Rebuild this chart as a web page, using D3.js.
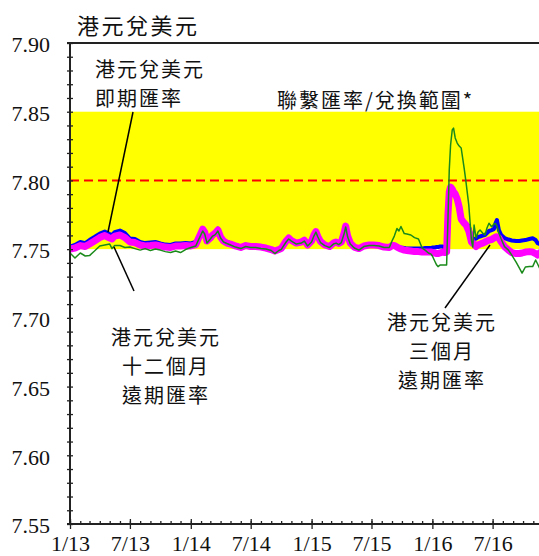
<!DOCTYPE html>
<html><head><meta charset="utf-8">
<script src="https://cdn.jsdelivr.net/npm/d3@7"></script>
<style>html,body{margin:0;padding:0;background:#fff;overflow:hidden}</style>
</head><body><svg id="c" width="539" height="556"></svg>
<script>
const dates = ["2013-01-01","2013-01-16","2013-02-01","2013-02-16","2013-03-01","2013-03-16","2013-04-01","2013-04-16","2013-05-01","2013-05-08","2013-05-16","2013-06-01","2013-06-16","2013-07-01","2013-07-16","2013-08-01","2013-08-16","2013-09-01","2013-09-16","2013-10-01","2013-10-16","2013-11-01","2013-11-16","2013-12-01","2013-12-16",
"2014-01-01","2014-01-16","2014-01-24","2014-02-06","2014-02-12","2014-02-19","2014-03-01","2014-03-08","2014-03-16","2014-03-24","2014-04-01","2014-04-10","2014-04-20","2014-05-01","2014-05-16","2014-06-01","2014-06-16","2014-07-01","2014-07-16","2014-08-01","2014-08-16","2014-09-01","2014-09-12","2014-09-24","2014-10-01","2014-10-16","2014-10-24","2014-11-01","2014-11-16","2014-12-01","2014-12-10","2014-12-20",
"2015-01-01","2015-01-08","2015-01-14","2015-01-20","2015-01-28","2015-02-10","2015-02-24","2015-03-08","2015-03-16","2015-03-24","2015-04-01","2015-04-10","2015-04-14","2015-04-20","2015-04-28","2015-05-10","2015-05-24","2015-06-08","2015-06-24","2015-07-08","2015-07-24","2015-08-08","2015-08-24","2015-09-01","2015-09-08","2015-09-16","2015-09-22","2015-09-28","2015-10-08","2015-10-16","2015-10-28","2015-11-08","2015-11-20","2015-12-01","2015-12-10","2015-12-20","2015-12-28",
"2016-01-01","2016-01-08","2016-01-14","2016-01-18","2016-01-24","2016-02-01","2016-02-08","2016-02-13","2016-02-17","2016-02-21","2016-02-25","2016-03-01","2016-03-05","2016-03-10","2016-03-16","2016-03-22","2016-03-28","2016-04-06","2016-04-12","2016-04-20","2016-04-28","2016-05-02","2016-05-06","2016-05-12","2016-05-18","2016-05-24","2016-06-01","2016-06-08","2016-06-14","2016-06-20","2016-06-28","2016-07-05","2016-07-10","2016-07-14","2016-07-20","2016-07-27","2016-08-06","2016-08-18","2016-08-28","2016-09-10","2016-09-20","2016-09-28","2016-10-08","2016-10-20","2016-10-30","2016-11-08","2016-11-14","2016-11-20"];

const spot = [7.7519,7.7530,7.7552,7.7544,7.7566,7.7588,7.7613,7.7628,7.7610,7.7603,7.7624,7.7635,7.7617,7.7577,7.7574,7.7552,7.7544,7.7548,7.7552,7.7541,7.7533,7.7530,7.7541,7.7541,7.7544,
7.7541,7.7552,7.7588,7.7646,7.7632,7.7566,7.7588,7.7610,7.7624,7.7650,7.7595,7.7566,7.7552,7.7544,7.7530,7.7519,7.7533,7.7526,7.7523,7.7519,7.7512,7.7501,7.7486,7.7501,7.7504,7.7559,7.7581,7.7566,7.7544,7.7552,7.7566,7.7530,
7.7559,7.7603,7.7632,7.7595,7.7555,7.7533,7.7519,7.7544,7.7552,7.7541,7.7555,7.7624,7.7668,7.7595,7.7544,7.7508,7.7501,7.7523,7.7530,7.7530,7.7526,7.7515,7.7512,7.7530,7.7530,7.7523,7.7515,7.7512,7.7508,7.7504,7.7504,7.7504,7.7504,7.7504,7.7508,7.7508,7.7508,
7.7512,7.7512,7.7515,7.7515,7.7519,7.7519,7.7508,7.7508,7.7748,7.7916,7.7937,7.7923,7.7916,7.7901,7.7872,7.7821,7.7734,7.7697,7.7683,7.7668,7.7595,7.7566,7.7574,7.7577,7.7588,7.7592,7.7599,7.7603,7.7617,7.7632,7.7639,7.7646,7.7690,7.7712,7.7639,7.7603,7.7581,7.7570,7.7563,7.7559,7.7559,7.7563,7.7566,7.7574,7.7579,7.7566,7.7544,7.7537];

const fwd3m = [7.7501,7.7508,7.7526,7.7519,7.7537,7.7559,7.7584,7.7599,7.7581,7.7574,7.7595,7.7603,7.7584,7.7552,7.7548,7.7530,7.7523,7.7526,7.7530,7.7523,7.7515,7.7512,7.7523,7.7523,7.7526,
7.7523,7.7533,7.7577,7.7646,7.7624,7.7559,7.7581,7.7603,7.7617,7.7639,7.7588,7.7559,7.7544,7.7537,7.7523,7.7512,7.7526,7.7519,7.7519,7.7515,7.7508,7.7497,7.7486,7.7497,7.7504,7.7559,7.7581,7.7563,7.7544,7.7552,7.7566,7.7530,
7.7559,7.7603,7.7628,7.7592,7.7555,7.7530,7.7519,7.7544,7.7552,7.7541,7.7552,7.7624,7.7668,7.7595,7.7544,7.7515,7.7504,7.7523,7.7530,7.7530,7.7526,7.7515,7.7512,7.7526,7.7526,7.7515,7.7508,7.7501,7.7493,7.7490,7.7486,7.7482,7.7482,7.7479,7.7479,7.7479,7.7479,
7.7475,7.7472,7.7468,7.7468,7.7472,7.7479,7.7475,7.7479,7.7748,7.7916,7.7952,7.7937,7.7916,7.7901,7.7865,7.7806,7.7719,7.7690,7.7675,7.7632,7.7552,7.7541,7.7537,7.7519,7.7530,7.7537,7.7544,7.7552,7.7559,7.7566,7.7570,7.7581,7.7588,7.7590,7.7581,7.7552,7.7519,7.7493,7.7475,7.7468,7.7468,7.7472,7.7479,7.7482,7.7479,7.7468,7.7457,7.7472];

const fwd12m = [7.7472,7.7435,7.7472,7.7450,7.7453,7.7486,7.7523,7.7530,7.7537,7.7504,7.7526,7.7526,7.7512,7.7515,7.7504,7.7493,7.7504,7.7490,7.7501,7.7493,7.7482,7.7475,7.7486,7.7475,7.7497,
7.7512,7.7523,7.7566,7.7632,7.7610,7.7544,7.7574,7.7595,7.7606,7.7632,7.7581,7.7552,7.7541,7.7530,7.7515,7.7504,7.7519,7.7512,7.7512,7.7504,7.7501,7.7490,7.7468,7.7490,7.7497,7.7552,7.7574,7.7559,7.7537,7.7544,7.7559,7.7523,
7.7552,7.7595,7.7624,7.7588,7.7548,7.7526,7.7512,7.7537,7.7544,7.7533,7.7548,7.7617,7.7661,7.7588,7.7537,7.7508,7.7493,7.7519,7.7526,7.7526,7.7523,7.7512,7.7512,7.7559,7.7595,7.7650,7.7632,7.7665,7.7613,7.7610,7.7603,7.7584,7.7574,7.7508,7.7493,7.7472,7.7464,
7.7450,7.7414,7.7384,7.7373,7.7384,7.7384,7.7384,7.7384,7.7712,7.8076,7.8258,7.8367,7.8381,7.8309,7.8272,7.8250,7.8236,7.8090,7.7981,7.7821,7.7566,7.7515,7.7675,7.7581,7.7624,7.7639,7.7617,7.7603,7.7654,7.7688,7.7663,7.7683,7.7686,7.7668,7.7617,7.7574,7.7518,7.7493,7.7457,7.7406,7.7362,7.7326,7.7370,7.7373,7.7373,7.7421,7.7392,7.7362];

const yMajorTicks = [7.55,7.60,7.65,7.70,7.75,7.80,7.85,7.90];
const yTickLabels = ["7.55","7.60","7.65","7.70","7.75","7.80","7.85","7.90"];
const xMajorTicks = ["2013-01-01","2013-07-01","2014-01-01","2014-07-01","2015-01-01","2015-07-01","2016-01-01","2016-07-01"];
const xTickLabels = ["1/13","7/13","1/14","7/14","1/15","7/15","1/16","7/16"];
const xDomain = ["2013-01-01","2016-11-20"];
const yDomain = [7.55, 7.90];
const pegBand = [7.75, 7.85];
const pegCentre = [7.80];
const titleText = "港元兌美元";
const spotLabel = ["港元兌美元","即期匯率"];
const bandLabel = "聯繫匯率/兌換範圍*";
const fwd12Label = ["港元兌美元","十二個月","遠期匯率"];
const fwd3Label = ["港元兌美元","三個月","遠期匯率"];

const parse = d3.timeParse("%Y-%m-%d");
const L = 70, R = 539.6, T = 43, B = 524;
const svg = d3.select("#c");
const x = d3.scaleTime().domain(xDomain.map(parse)).range([L, R]);
const y = d3.scaleLinear().domain(yDomain).range([B, T]);
const cjk = '"Noto Sans CJK TC"';
const serif = '"Liberation Serif"';

svg.append("defs").append("clipPath").attr("id","clip")
  .append("rect").attr("x",L).attr("y",T).attr("width",539-L).attr("height",B-T);

// peg band
svg.append("rect").attr("x",L).attr("width",539-L)
  .attr("y",y(pegBand[1])).attr("height",y(pegBand[0])-y(pegBand[1]))
  .attr("fill","#ffff00");
svg.selectAll(".centre").data(pegCentre).join("line")
  .attr("x1",L).attr("x2",539).attr("y1",d=>y(d)).attr("y2",d=>y(d))
  .attr("stroke","#ff0000").attr("stroke-width",2).attr("stroke-dasharray","9,5");

const rows = dates.map((d,i)=>({date:parse(d), s:spot[i], f3:fwd3m[i], f12:fwd12m[i]}));
const g = svg.append("g").attr("clip-path","url(#clip)");
function addLine(key,color,w){
  g.append("path").datum(rows)
    .attr("d", d3.line().x(d=>x(d.date)).y(d=>y(d[key])))
    .attr("fill","none").attr("stroke",color).attr("stroke-width",w)
    .attr("stroke-linejoin","round").attr("stroke-linecap","round");
}
addLine("s","#0000ff",4);
addLine("f3","#ff00ff",7);
addLine("f12","#1a8a1a",1.5);

// y axis
const yMinor = d3.range(0,36).map(i=>+(7.55+i*0.01).toFixed(2));
const yAxis = d3.axisLeft(y).tickValues(yMinor).tickSize(6).tickPadding(17)
  .tickFormat(v=>{const k=yMajorTicks.findIndex(t=>Math.abs(t-v)<1e-6);return k>=0?yTickLabels[k]:"";});
const ya = svg.append("g").attr("transform",`translate(${L+3},0)`).call(yAxis);
ya.select(".domain").remove();
ya.selectAll("line").attr("stroke","#222").attr("stroke-width",1.3);
ya.selectAll("text").style("font-family",serif).style("font-size","22px").attr("fill","#111").attr("dy","0.4em");

// x axis minor (monthly, inward)
const xMinor = d3.timeMonth.range(parse("2013-01-01"), parse("2016-11-20"));
const xa1 = svg.append("g").attr("transform",`translate(0,${B})`)
  .call(d3.axisBottom(x).tickValues(xMinor).tickSize(-3).tickFormat(""));
xa1.select(".domain").remove();
xa1.selectAll("line").attr("stroke","#222").attr("stroke-width",1.3);
// x axis major
const xa2 = svg.append("g").attr("transform",`translate(0,${B-5})`)
  .call(d3.axisBottom(x).tickValues(xMajorTicks.map(parse)).tickSize(10).tickPadding(6.5)
    .tickFormat((d,i)=>xTickLabels[i]));
xa2.select(".domain").remove();
xa2.selectAll("line").attr("stroke","#222").attr("stroke-width",1.3);
xa2.selectAll("text").style("font-family",serif).style("font-size","22px").attr("fill","#111");

// frame lines
svg.append("line").attr("x1",L).attr("x2",L).attr("y1",T).attr("y2",B).attr("stroke","#222").attr("stroke-width",2);
svg.append("line").attr("x1",L-3).attr("x2",539).attr("y1",T).attr("y2",T).attr("stroke","#222").attr("stroke-width",2);
svg.append("line").attr("x1",L-3).attr("x2",539).attr("y1",B).attr("y2",B).attr("stroke","#222").attr("stroke-width",2);

// title
svg.append("text").attr("x",77).attr("y",33.5).text(titleText)
  .style("font-family",cjk).style("font-size","22px").style("letter-spacing","2.5px").attr("fill","#111");

function label(lines,xp,y0,anchor){
  const t = svg.append("g");
  lines.forEach((s,i)=>{
    t.append("text").attr("x",xp).attr("y",y0+i*29).text(s)
      .style("font-family",cjk).style("font-size","20px").style("letter-spacing","2px")
      .attr("text-anchor",anchor).attr("fill","#111");
  });
}
label(spotLabel,95,77,"start");
label([bandLabel],277,108,"start");
label(fwd12Label,166,345,"middle");
label(fwd3Label,442,330,"middle");

// leader lines
const leaders = [[[133,112],[108,232]],[[114,247],[134,291]],[[490,245],[445,308]]];
svg.selectAll(".leader").data(leaders).join("line")
  .attr("x1",d=>d[0][0]).attr("y1",d=>d[0][1]).attr("x2",d=>d[1][0]).attr("y2",d=>d[1][1])
  .attr("stroke","#000").attr("stroke-width",1.5);
</script></body></html>
